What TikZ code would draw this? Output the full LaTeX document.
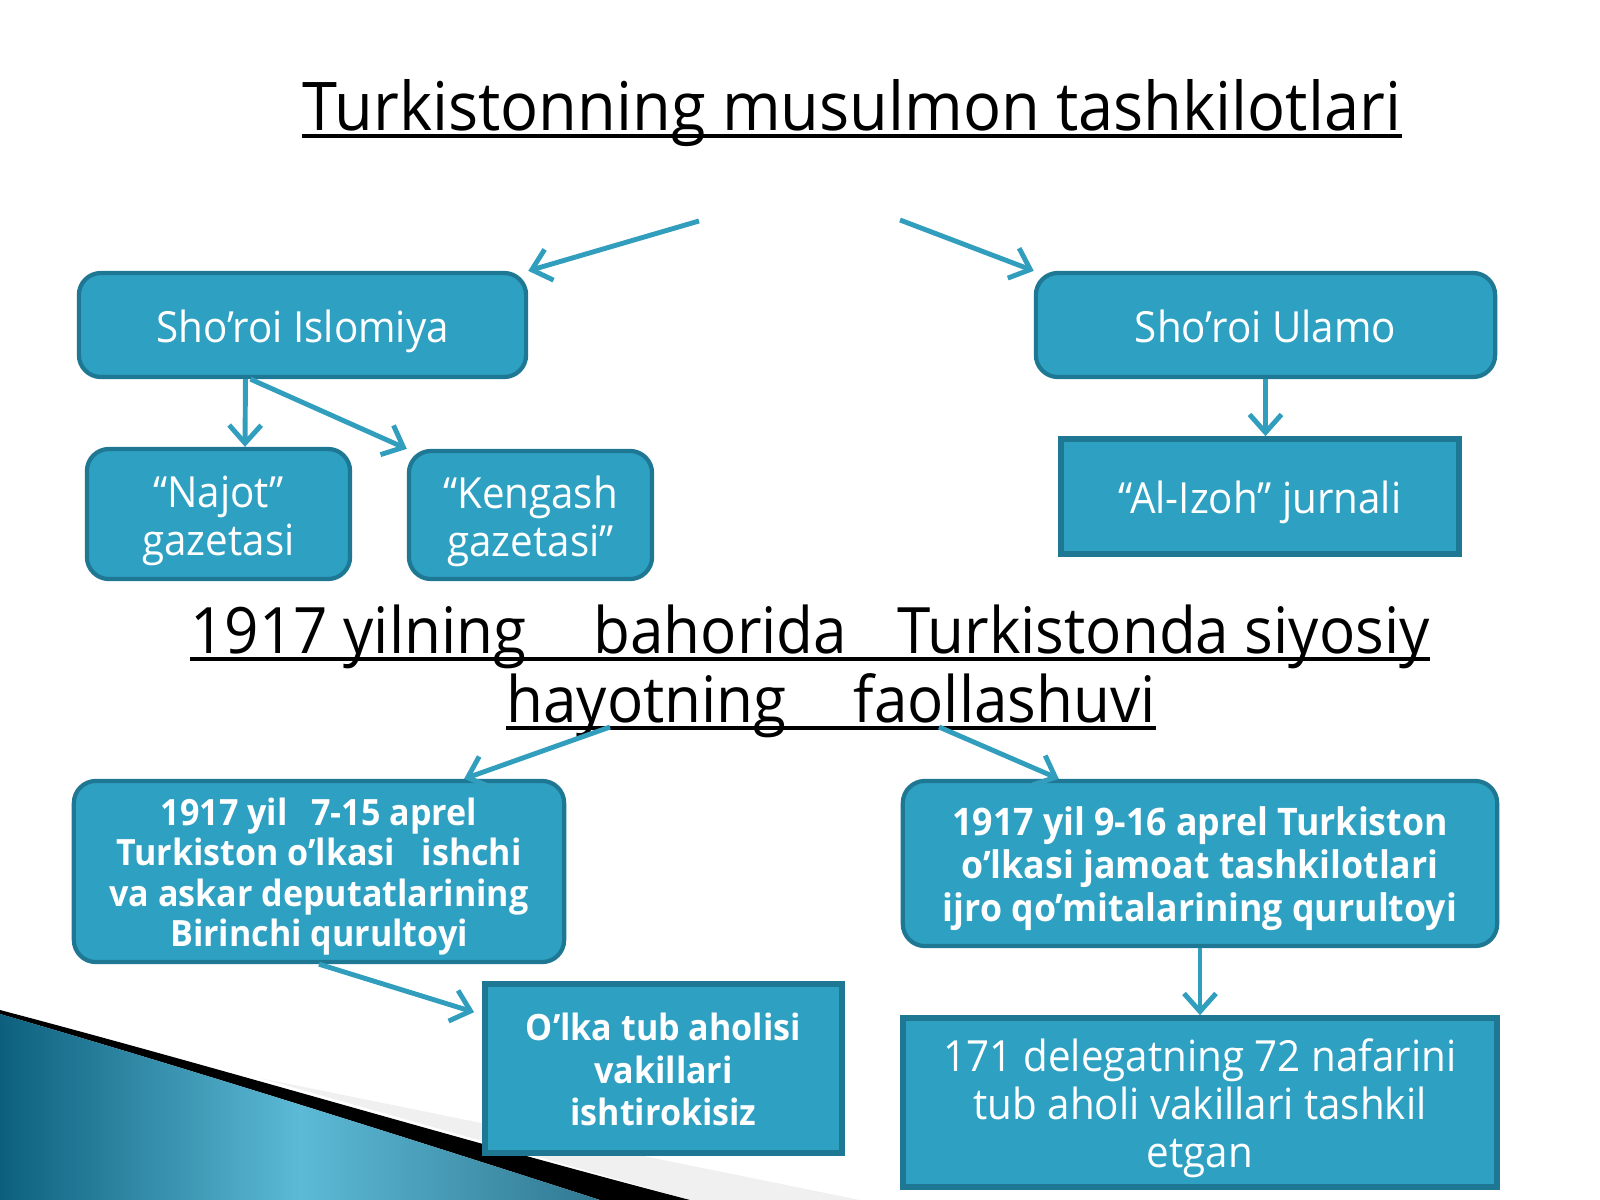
\documentclass[tikz,border=0pt]{standalone}
\usepackage{fontspec}
\setmainfont{Open Sans}[FakeStretch=0.94]
\usetikzlibrary{arrows.meta}

\definecolor{boxfill}{RGB}{46,160,194}
\definecolor{boxedge}{RGB}{30,120,148}
\definecolor{linkcol}{RGB}{50,158,190}
\definecolor{cornerdark}{RGB}{12,96,126}
\definecolor{cornerlight}{RGB}{92,186,214}

\newcommand\strutup{\rule{0pt}{1.05em}}
\newcommand\strutdown{\rule[-0.25em]{0pt}{0.25em}}

\tikzset{
	boxtext/.style={text=white, align=center, inner sep=0pt},
	roundbox/.style={boxtext, draw=boxedge, fill=boxfill, line width=1.2pt, rounded corners=0.22cm},
	flatbox/.style={boxtext, draw=boxedge, fill=boxfill, line width=1.6pt},
	link/.style={draw=linkcol, line width=1.4pt, -{Straight Barb[length=0.18cm, width=0.32cm]}},
	heading/.style={anchor=base, inner sep=0pt, font=\fontsize{18.2}{22}\selectfont},
	uline/.style={line width=0.9pt},
}

\begin{document}
\begin{tikzpicture}[x=0.01cm, y=-0.01cm]
		\useasboundingbox (0,0) rectangle (1600,1200);

		\fill[black!6] (260,1078) -- (860,1200) -- (690,1200) -- cycle;
		\fill[black] (0,1010) .. controls (220,1068) and (460,1140) .. (690,1200) -- (600,1200) .. controls (420,1142) and (200,1072) .. (0,1014) -- cycle;
		\shade[left color=cornerdark, right color=cornerdark!85, middle color=cornerlight] (0,1014) .. controls (200,1072) and (420,1142) .. (600,1200) -- (0,1200) -- cycle;

		\node[heading, font=\fontsize{19.1}{23}\selectfont] (title) at (852,130) {Turkistonning musulmon tashkilotlari};
		\draw[uline] ([yshift=-0.06cm]title.base west) -- ([yshift=-0.06cm]title.base east);

		\node[heading] (spring1) at (810,653) {1917 yilning\hspace{0.67cm}bahorida\hspace{0.5cm}Turkistonda siyosiy};
		\node[heading] (spring2) at (831,722) {hayotning\hspace{0.67cm}faollashuvi};
		\foreach \n in {spring1, spring2} {
			\draw[uline] ([yshift=-0.06cm]\n.base west) -- ([yshift=-0.06cm]\n.base east);
		}

		\node[roundbox, minimum width=4.47cm, minimum height=1.04cm, font=\fontsize{12.2}{14}\selectfont] (islom) at (302.5,325) {\strutup Sho’roi Islomiya\strutdown};
		\node[roundbox, minimum width=4.59cm, minimum height=1.04cm, font=\fontsize{12.2}{14}\selectfont] (ulamo) at (1265.5,325) {\strutup Sho’roi Ulamo\strutdown};
		\node[roundbox, minimum width=2.63cm, minimum height=1.3cm, font=\fontsize{12.2}{13.7}\selectfont] (najot) at (218.5,514) {\strutup“Najot”\\gazetasi\strutdown};
		\node[roundbox, minimum width=2.43cm, minimum height=1.28cm, font=\fontsize{12.2}{13.7}\selectfont] (kengash) at (530.5,515) {\strutup“Kengash\\gazetasi”\strutdown};
		\node[flatbox, minimum width=3.98cm, minimum height=1.15cm, font=\fontsize{12.2}{13.7}\selectfont] (izoh) at (1260,496.5) {\strutup“Al-Izoh” jurnali\strutdown};

		\node[roundbox, minimum width=4.9cm, minimum height=1.81cm, font=\bfseries\fontsize{10.3}{11.4}\selectfont] (congress1) at (319,871.5) {\strutup 1917 yil\hspace{0.15cm} 7-15 aprel\\Turkiston o’lkasi\hspace{0.18cm} ishchi\\va askar deputatlarining\\Birinchi qurultoyi\strutdown};
		\node[roundbox, minimum width=5.94cm, minimum height=1.65cm, font=\bfseries\fontsize{10.8}{12.2}\selectfont] (congress2) at (1200,863.5) {\strutup 1917 yil 9-16 aprel Turkiston\\o’lkasi jamoat tashkilotlari\\ijro qo’mitalarining qurultoyi\strutdown};
		\node[flatbox, minimum width=3.57cm, minimum height=1.69cm, font=\bfseries\fontsize{10.3}{12.2}\selectfont] (without) at (663.5,1068.5) {\strutup O’lka tub aholisi\\vakillari\\ishtirokisiz\strutdown};
		\node[flatbox, minimum width=5.94cm, minimum height=1.69cm, font=\fontsize{12.2}{13.7}\selectfont] (delegates) at (1200,1102.5) {\strutup 171 delegatning 72 nafarini\\tub aholi vakillari tashkil\\etgan\strutdown};

		\coordinate (tl) at (699,221);
		\coordinate (tr) at (900,220);
		\coordinate (hl) at (610,727);
		\coordinate (hr) at (939,727);

		\draw[link] (tl) -- (islom.north east);
		\draw[link] (tr) -- (ulamo.north west);
		\draw[link] ([xshift=-0.57cm]islom.south) -- ([xshift=0.265cm]najot.north);
		\draw[link] ([xshift=-0.52cm]islom.south) -- (kengash.north west);
		\draw[link] (ulamo.south) -- (ulamo.south |- izoh.north);
		\draw[link] (hl) -- ([xshift=1.45cm]congress1.north);
		\draw[link] (hr) -- ([xshift=1.58cm]congress2.north west);
		\draw[link] (congress1.south) -- ([yshift=-0.31cm, xshift=-0.08cm]without.north west);
		\draw[link] (congress2.south) -- (delegates.north);
	\end{tikzpicture}
\end{document}
